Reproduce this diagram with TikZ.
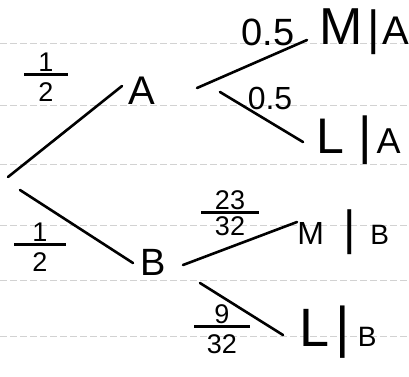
\documentclass[tikz,border=0pt]{standalone}
\usepackage{fontspec}
\setmainfont{Liberation Sans}
\newcommand{\fs}[1]{\fontsize{#1}{#1}\selectfont}
% #1 bar width, #2 numerator, #3 denominator, #4 gap below bar
\newcommand{\myfrac}[4]{#2\\[-19pt]\rule{#1}{3pt}\\[#4]#3}
\begin{document}
\begin{tikzpicture}[x=1pt,y=-1pt,line width=2.6pt,line cap=round,
  ruled/.style={gray!35,line width=0.8pt,dash pattern=on 7pt off 3pt,line cap=butt},
  lbl/.style={inner sep=0pt,text=black},
  frac/.style={lbl,align=center,font=\fontsize{27}{24}\selectfont},
  edge/.style={black}]
\useasboundingbox (0,0) rectangle (409,376);
% notebook ruling
\foreach \yy in {43,105,164,225,280,336}{\draw[ruled] (0,\yy) -- (409,\yy);}
% nodes
\node[lbl,font=\fs{40}] (A) at (142,91) {A};
\node[lbl,font=\fs{38}] (B) at (153,262) {B};
\node[frac] (pA) at (46,77) {\myfrac{44pt}{1}{2}{1pt}};
\node[frac] (pB) at (40,247) {\myfrac{52pt}{1}{2}{1pt}};
\node[lbl,font=\fs{38}] (pMA) at (268,32) {0.5};
\node[lbl,font=\fs{32}] (pLA) at (270,98) {0.5};
\node[frac] (pMB) at (230,213) {\myfrac{58pt}{23}{32}{-3pt}};
\node[frac] (pLB) at (222,329) {\myfrac{56pt}{9}{32}{1pt}};
\node[lbl,anchor=west] (MA) at (318,32) {{\fs{52}M}\hspace{5pt}{\fs{48}|}\hspace{2pt}{\fs{40}A}};
\node[lbl,anchor=west] (LA) at (315,140) {{\fs{50}L}\hspace{14pt}{\fs{52}|}\hspace{5pt}{\fs{36}A}};
\node[lbl,anchor=west] (MB) at (296,232) {{\fs{32}M}\hspace{20pt}{\fs{48}|}\hspace{14pt}{\fs{28}B}};
\node[lbl,anchor=west] (LB) at (298,332) {{\fs{54}L}\hspace{6pt}{\fs{56}|}\hspace{8pt}{\fs{28}B}};
% connector end points
\coordinate (r1) at (8,177);
\coordinate (r2) at (20,190);
\coordinate (a1) at (122,86);
\coordinate (b1) at (133,263);
\coordinate (a2) at (197,88);
\coordinate (ma) at (307,40);
\coordinate (a3) at (220,92);
\coordinate (la) at (303,142);
\coordinate (b2) at (183,265);
\coordinate (mb) at (297,222);
\coordinate (b3) at (200,283);
\coordinate (lb) at (283,335);
\draw[edge] (r1) -- (a1);
\draw[edge] (r2) -- (b1);
\draw[edge] (a2) -- (ma);
\draw[edge] (a3) -- (la);
\draw[edge] (b2) -- (mb);
\draw[edge] (b3) -- (lb);
\end{tikzpicture}
\end{document}
